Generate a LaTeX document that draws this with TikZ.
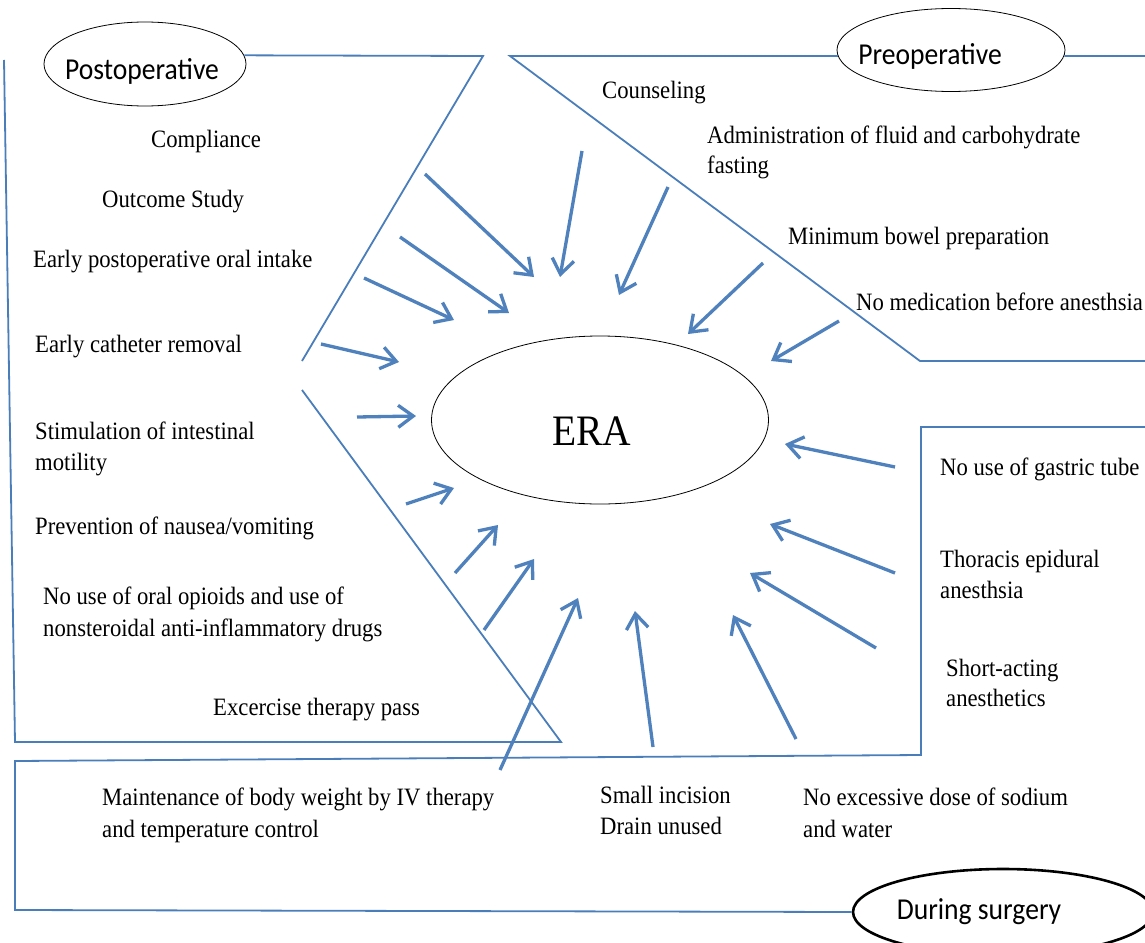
\documentclass[tikz,border=0pt]{standalone}
\usepackage{fontspec}
\setmainfont{Liberation Serif}
\newfontfamily\calibri{Carlito}
\usetikzlibrary{shapes.geometric,arrows.meta}
\definecolor{lineblue}{RGB}{74,126,187}
\definecolor{arrowblue}{RGB}{79,129,189}
\tikzset{
  region/.style={draw=lineblue, line width=1.8pt, line join=miter},
  ring/.style={draw=black, ellipse, line width=0.8pt, inner sep=0pt},
  lbl/.style={anchor=base west, inner sep=0pt, yscale=1.1, transform shape, font=\fontsize{22.7}{31}\selectfont},
  phase/.style={anchor=base, inner sep=0pt, yscale=1.1, transform shape, font=\calibri\fontsize{27.6}{32}\selectfont},
  inarrow/.style={draw=arrowblue, line width=3.3pt, -{Straight Barb[length=15pt,width=22pt]}},
}
\begin{document}
\begin{tikzpicture}[x=1pt,y=-1pt]
\useasboundingbox (0,0) rectangle (1145,942);
\fill[white] (0,0) rectangle (1145,942);

% phase ellipses
\node[ring, minimum width=202pt, minimum height=84pt] (post) at (145,64) {};
\node[phase] (postt) at (142,79) {Postoperative};
\node[ring, minimum width=228pt, minimum height=83pt] (pre) at (951,50) {};
\node[phase] (pret) at (930,65) {Preoperative};
\node[ring, line width=2.6pt, minimum width=300pt, minimum height=86pt] (dur) at (1003,912) {};
\node[phase] (durt) at (979,919) {During surgery};

% central ellipse
\node[ring, minimum width=337pt, minimum height=168pt] (era) at (600,420) {};
\node[anchor=base, inner sep=0pt, yscale=1.1, transform shape, font=\fontsize{39.5}{44}\selectfont] (erat) at (592,445) {ERA};

% region outlines
\draw[region] (post.5) -- (483,56) -- (302,361);
\draw[region] (302,390) -- (561,742) -- (15,742) -- (4,60);
\draw[region] (1145,56) -- (pre.-3);
\draw[region] (pre.183) -- (510,56) -- (920,361) -- (1145,361);
\draw[region] (1145,427) -- (921,427) -- (921,755) -- (15,761) -- (15,910) -- (dur.west);

% arrows
\foreach \n/\sx/\sy/\ex/\ey in {
  1/425/174/534/277, 2/400/237/509/313, 3/364/278/454/320, 4/321/344/399/362,
  5/357/417/416/416, 6/582/151/560/277, 7/668/187/619/295, 8/763/263/688/334,
  9/839/321/771/361, 10/895/467/785/444, 11/895/573/770/524, 12/876/648/750/573,
  13/796/739/733/615, 14/653/747/635/611, 15/500/770/578/598, 16/484/630/534/559,
  17/455/573/498/525, 18/406/504/454/488} {
  \coordinate (s\n) at (\sx,\sy);
  \coordinate (e\n) at (\ex,\ey);
  \draw[inarrow] (s\n) -- (e\n);
}

% postoperative items
\node[lbl] (compl) at (151,147) {Compliance};
\node[lbl] (outc) at (102,207) {Outcome Study};
\node[lbl] (oral) at (33,267) {Early postoperative oral intake};
\node[lbl] (cath) at (35,352) {Early catheter removal};
\node[lbl] (stim1) at (35,439) {Stimulation of intestinal};
\node[lbl] (stim2) at (35,470) {motility};
\node[lbl] (naus) at (35,534) {Prevention of nausea/vomiting};
\node[lbl] (opio1) at (43,604) {No use of oral opioids and use of};
\node[lbl] (opio2) at (43,636) {nonsteroidal anti-inflammatory drugs};
\node[lbl] (exer) at (213,715) {Excercise therapy pass};

% preoperative items
\node[lbl] (couns) at (602,98) {Counseling};
\node[lbl] (adm1) at (707,143) {Administration of fluid and carbohydrate};
\node[lbl] (adm2) at (707,173) {fasting};
\node[lbl] (bowel) at (788,244) {Minimum bowel preparation};
\node[lbl] (medic) at (856,310) {No medication before anesthsia};

% during surgery items
\node[lbl] (gastr) at (940,475) {No use of gastric tube};
\node[lbl] (thor1) at (940,567) {Thoracis epidural};
\node[lbl] (thor2) at (940,598) {anesthsia};
\node[lbl] (short1) at (946,676) {Short-acting};
\node[lbl] (short2) at (946,706) {anesthetics};
\node[lbl] (inc1) at (600,803) {Small incision};
\node[lbl] (inc2) at (600,834) {Drain unused};
\node[lbl] (sod1) at (803,805) {No excessive dose of sodium};
\node[lbl] (sod2) at (803,837) {and water};
\node[lbl] (iv1) at (102,805) {Maintenance of body weight by IV therapy};
\node[lbl] (iv2) at (102,837) {and temperature control};
\end{tikzpicture}
\end{document}
